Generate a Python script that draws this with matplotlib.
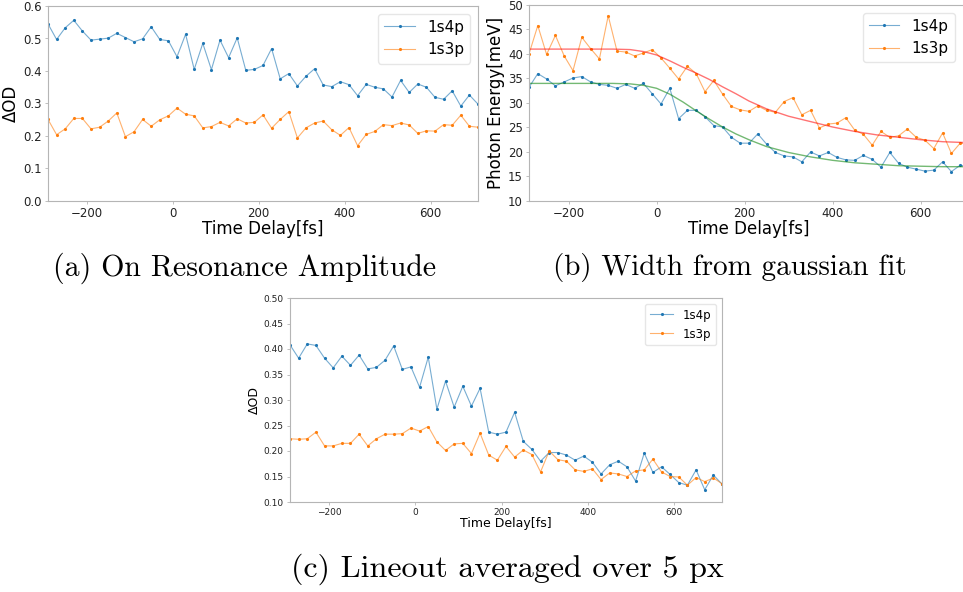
import matplotlib.pyplot as plt
from matplotlib.colors import to_rgba

# time axis shared by all three panels (fs)
t = list(range(-290, 711, 20))

# (a) on resonance amplitude
amp_1s4p = [0.545, 0.497, 0.533, 0.556, 0.523, 0.495, 0.498, 0.501, 0.516, 0.503,
            0.490, 0.499, 0.536, 0.497, 0.493, 0.444, 0.513, 0.405, 0.485, 0.404,
            0.495, 0.441, 0.502, 0.402, 0.405, 0.417, 0.469, 0.376, 0.392, 0.354,
            0.384, 0.407, 0.357, 0.352, 0.367, 0.358, 0.324, 0.359, 0.350, 0.345,
            0.320, 0.371, 0.334, 0.360, 0.350, 0.319, 0.313, 0.339, 0.292, 0.326, 0.298]
amp_1s3p = [0.251, 0.204, 0.222, 0.254, 0.254, 0.222, 0.227, 0.246, 0.271, 0.198,
            0.213, 0.251, 0.230, 0.250, 0.262, 0.286, 0.267, 0.262, 0.225, 0.229,
            0.242, 0.231, 0.253, 0.240, 0.242, 0.265, 0.224, 0.251, 0.275, 0.194,
            0.225, 0.240, 0.246, 0.219, 0.202, 0.226, 0.170, 0.205, 0.214, 0.235,
            0.232, 0.240, 0.234, 0.208, 0.216, 0.215, 0.235, 0.233, 0.264, 0.230, 0.227]

# (b) width from gaussian fit (meV)
wid_1s4p = [33.2, 36.0, 34.9, 33.5, 34.3, 35.1, 35.4, 34.3, 33.8, 33.6,
            33.0, 33.8, 33.0, 34.0, 31.9, 29.8, 33.0, 26.8, 28.5, 28.5,
            27.2, 25.4, 25.1, 23.0, 21.8, 21.8, 23.7, 21.6, 19.9, 19.2,
            19.0, 18.0, 20.0, 19.2, 19.9, 18.9, 18.4, 18.3, 19.3, 18.5,
            16.9, 19.9, 17.7, 16.9, 16.5, 16.1, 16.3, 18.0, 16.0, 17.3, 17.0]
wid_1s3p = [40.0, 45.8, 39.9, 43.8, 39.6, 36.6, 43.4, 41.1, 39.0, 47.8,
            40.6, 40.4, 39.6, 40.2, 40.9, 39.2, 37.1, 34.9, 37.5, 36.0,
            32.3, 34.6, 31.8, 29.3, 28.6, 28.3, 29.4, 28.5, 28.1, 30.3,
            31.1, 27.6, 28.5, 24.9, 25.7, 25.9, 27.0, 24.5, 23.6, 21.4,
            24.2, 23.0, 23.3, 24.7, 23.0, 22.4, 20.7, 23.9, 19.7, 21.8, 21.6]

# fit curves
fit_t = [-290, -100, -60, -30, 0, 30, 60, 90, 120, 150, 180, 210,
         250, 300, 350, 400, 450, 500, 550, 600, 650, 710]
fit_1s3p = [41.0, 41.0, 40.9, 40.5, 39.8, 38.6, 37.3, 36.1, 34.8, 33.3, 31.9, 30.4,
            28.8, 27.3, 26.2, 25.1, 24.2, 23.5, 23.0, 22.5, 22.1, 21.9]
fit_1s4p = [34.0, 34.0, 33.9, 33.6, 33.0, 31.8, 30.2, 28.4, 26.7, 25.1, 23.7, 22.5,
            21.1, 19.9, 19.0, 18.3, 17.8, 17.5, 17.2, 17.1, 17.0, 17.0]

# (c) lineout averaged over 5 px
line_1s4p = [0.408, 0.382, 0.410, 0.407, 0.382, 0.363, 0.386, 0.368, 0.388, 0.361,
             0.364, 0.378, 0.406, 0.360, 0.365, 0.325, 0.384, 0.282, 0.337, 0.286,
             0.327, 0.288, 0.323, 0.237, 0.233, 0.237, 0.276, 0.219, 0.203, 0.180,
             0.197, 0.197, 0.192, 0.182, 0.190, 0.178, 0.155, 0.173, 0.180, 0.169,
             0.141, 0.196, 0.158, 0.169, 0.154, 0.138, 0.133, 0.163, 0.124, 0.153, 0.135]
line_1s3p = [0.224, 0.223, 0.224, 0.237, 0.210, 0.210, 0.215, 0.215, 0.233, 0.210,
             0.224, 0.233, 0.233, 0.234, 0.245, 0.239, 0.248, 0.218, 0.201, 0.214,
             0.215, 0.195, 0.235, 0.192, 0.182, 0.209, 0.188, 0.202, 0.193, 0.159,
             0.200, 0.183, 0.180, 0.163, 0.160, 0.165, 0.144, 0.157, 0.155, 0.150,
             0.161, 0.163, 0.184, 0.159, 0.150, 0.149, 0.133, 0.148, 0.140, 0.147, 0.136]

captions = ["(a) On Resonance Amplitude", "(b) Width from gaussian fit",
            "(c) Lineout averaged over 5 px"]

W, H = 963, 592
fig = plt.figure(figsize=(W / 100, H / 100), dpi=100)


def style_axes(ax, tick_size):
    for s in ax.spines.values():
        s.set_color('#b5b5b5')
        s.set_linewidth(0.8)
    ax.tick_params(colors='#b5b5b5', labelcolor='#222222', labelsize=tick_size,
                   length=2.5, width=0.6, pad=2)
    ax.set_xlim(-290, 710)
    ax.set_xticks([-200, 0, 200, 400, 600])


def series(ax, y4, y3):
    # lines a bit faded, markers at full colour
    for y, c, lab in [(y4, 'tab:blue', '1s4p'), (y3, 'tab:orange', '1s3p')]:
        ax.plot(t, y, '.-', color=to_rgba(c, 0.6), lw=0.8, ms=2.5,
                markerfacecolor=c, markeredgecolor=c, label=lab)


# panel a
ax1 = fig.add_axes([48 / W, 1 - 201 / H, 430 / W, 195 / H])
series(ax1, amp_1s4p, amp_1s3p)
style_axes(ax1, 8.5)
ax1.set_ylim(0, 0.6)
ax1.set_xlabel('Time Delay[fs]', fontsize=12, labelpad=0)
ax1.set_ylabel('ΔOD', fontsize=12, labelpad=2)
ax1.legend(loc='upper right', fontsize=11, edgecolor='#e0e0e0')

# panel b (right edge runs off the figure like in the original)
ax2 = fig.add_axes([529 / W, 1 - 201 / H, 440 / W, 196 / H])
series(ax2, wid_1s4p, wid_1s3p)
ax2.plot(fit_t, fit_1s3p, color=to_rgba('red', 0.55), lw=1.0)
ax2.plot(fit_t, fit_1s4p, color=to_rgba('green', 0.55), lw=1.0)
style_axes(ax2, 8.5)
ax2.set_ylim(10, 50)
ax2.set_xlabel('Time Delay[fs]', fontsize=12, labelpad=0)
ax2.set_ylabel('Photon Energy[meV]', fontsize=12, labelpad=2)
h, l = ax2.get_legend_handles_labels()
ax2.legend(h[:2], l[:2], loc='upper right', bbox_to_anchor=(0.985, 1.0),
           fontsize=11, edgecolor='#e0e0e0')

# panel c
ax3 = fig.add_axes([290 / W, 1 - 502 / H, 432 / W, 204 / H])
series(ax3, line_1s4p, line_1s3p)
style_axes(ax3, 6.5)
ax3.set_ylim(0.10, 0.50)
ax3.set_yticks([0.10, 0.15, 0.20, 0.25, 0.30, 0.35, 0.40, 0.45, 0.50])
ax3.set_yticklabels(['%.2f' % v for v in ax3.get_yticks()])
ax3.set_xlabel('Time Delay[fs]', fontsize=9, labelpad=0)
ax3.set_ylabel('ΔOD', fontsize=9, labelpad=2)
ax3.legend(loc='upper right', fontsize=8.5, edgecolor='#e0e0e0')

# captions
fig.text(245 / W, 1 - 268 / H, captions[0], family='cmr10', fontsize=21.5,
         ha='center', va='center')
fig.text(730 / W, 1 - 268 / H, captions[1], family='cmr10', fontsize=21,
         ha='center', va='center')
fig.text(507 / W, 1 - 569 / H, captions[2], family='cmr10', fontsize=23,
         ha='center', va='center')

fig.savefig('out.png', dpi=100)
